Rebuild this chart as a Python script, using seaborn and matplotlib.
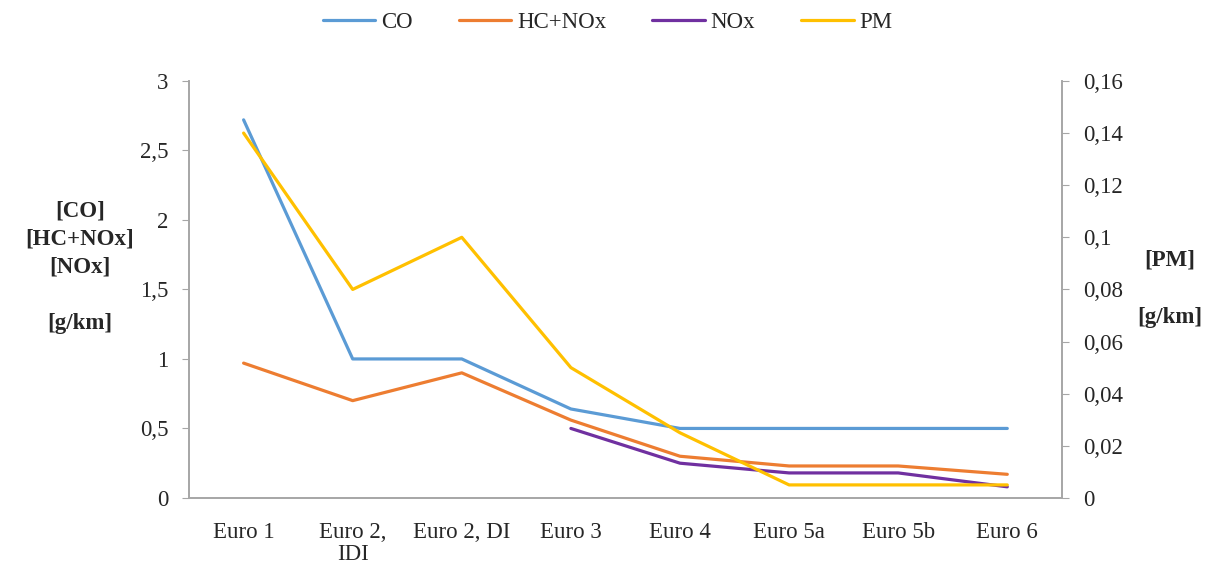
import numpy as np
import pandas as pd
import matplotlib
matplotlib.use('Agg')
import matplotlib.pyplot as plt
import seaborn as sns
from matplotlib.ticker import FuncFormatter

# Dados
categories = ['Euro 1', 'Euro 2,\nIDI', 'Euro 2, DI', 'Euro 3', 'Euro 4', 'Euro 5a', 'Euro 5b', 'Euro 6']
co = [2.72, 1.0, 1.0, 0.64, 0.5, 0.5, 0.5, 0.5]
hc_nox = [0.97, 0.70, 0.90, 0.56, 0.30, 0.23, 0.23, 0.17]
nox = [np.nan, np.nan, np.nan, 0.50, 0.25, 0.18, 0.18, 0.08]
pm = [0.14, 0.08, 0.10, 0.05, 0.025, 0.005, 0.005, 0.005]

colors = {'CO': '#5B9BD5', 'HC+NOx': '#ED7D31', 'NOx': '#7030A0', 'PM': '#FFC000'}

pos = np.arange(len(categories))
df = pd.DataFrame({'pos': pos, 'CO': co, 'HC+NOx': hc_nox, 'NOx': nox})
left = df.melt(id_vars='pos', var_name='serie', value_name='valor').dropna()
right = pd.DataFrame({'pos': pos, 'valor': pm, 'serie': 'PM'})

sns.set_style('white')
plt.rcParams['font.family'] = ['Liberation Serif', 'DejaVu Serif']
txt = '#262626'
grey = '#A6A6A6'
fs = 16.5

fig = plt.figure(figsize=(12.08, 5.74), dpi=100)
ax = fig.add_axes([0.1565, 0.1325, 0.7225, 0.7265])
ax2 = ax.twinx()

sns.lineplot(data=left, x='pos', y='valor', hue='serie', palette=colors,
             hue_order=['CO', 'HC+NOx', 'NOx'], linewidth=2.3, ax=ax, legend=False)
sns.lineplot(data=right, x='pos', y='valor', color=colors['PM'], linewidth=2.3,
             ax=ax2, legend=False)

ax.set_xlim(-0.5, len(categories) - 0.5)
ax.set_ylim(0, 3)
ax.set_yticks(np.arange(0, 3.01, 0.5))
ax2.set_ylim(0, 0.16)
ax2.set_yticks(np.arange(0, 0.161, 0.02))

comma = FuncFormatter(lambda v, p: ('%g' % round(v, 3)).replace('.', ','))
ax.yaxis.set_major_formatter(comma)
ax2.yaxis.set_major_formatter(comma)

ax.set_xticks(np.arange(-0.5, len(categories), 1.0))
ax.set_xticklabels([])
ax.set_xticks(pos, minor=True)
ax.set_xticklabels(categories, minor=True, fontsize=fs, color=txt, va='top', linespacing=1.1)
ax.tick_params(axis='x', which='minor', length=0, pad=17)
ax.tick_params(axis='x', which='major', length=5, color=grey, direction='out')
ax.tick_params(axis='y', length=5, color=grey, labelsize=fs, labelcolor=txt, pad=10)
ax2.tick_params(axis='y', length=5, color=grey, labelsize=fs, labelcolor=txt, pad=10)
ax.set_xlabel('')
ax.set_ylabel('')
ax2.set_ylabel('')

for a in (ax, ax2):
    a.spines['top'].set_visible(False)
    for s in ('left', 'bottom', 'right'):
        a.spines[s].set_color(grey)
        a.spines[s].set_linewidth(1.2)
ax.grid(False)
ax2.grid(False)

fig.text(0.066, 0.535, '[CO]\n[HC+NOx]\n[NOx]\n\n[g/km]', ha='center', va='center',
         fontsize=fs, fontweight='bold', color=txt, linespacing=1.45)
fig.text(0.968, 0.497, '[PM]\n\n[g/km]', ha='center', va='center',
         fontsize=fs, fontweight='bold', color=txt, linespacing=1.5)

handles = [plt.Line2D([], [], color=colors[k], linewidth=2.3) for k in colors]
fig.legend(handles, list(colors.keys()), loc='center', bbox_to_anchor=(0.503, 0.96),
           ncol=4, frameon=False, fontsize=fs, handlelength=2.3, columnspacing=2.0,
           handletextpad=0.25, labelcolor=txt)

fig.savefig('out.png', dpi=100)
